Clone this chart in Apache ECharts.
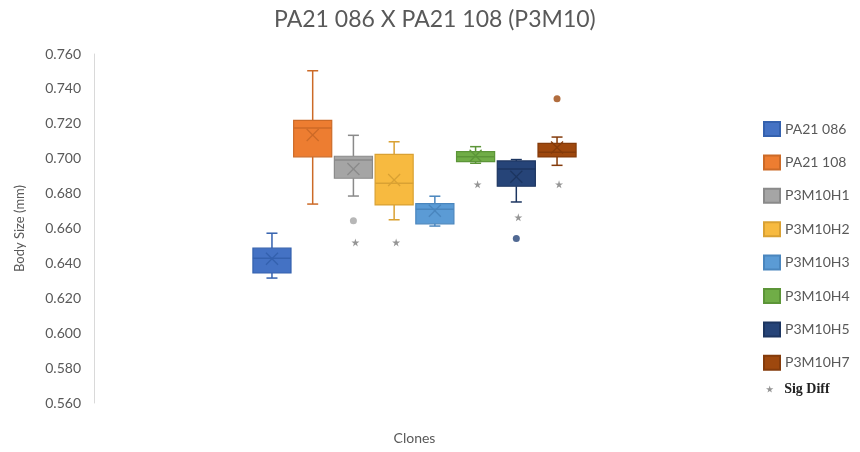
<!DOCTYPE html>
<html><head><meta charset="utf-8">
<script src="https://cdn.jsdelivr.net/npm/echarts@6/dist/echarts.min.js"></script>
<style>html,body{margin:0;padding:0;background:#fff}#c{width:860px;height:452px}</style>
</head><body><div id="c"></div>
<script>
// ---- data ----
const clones = ['PA21 086','PA21 108','P3M10H1','P3M10H2','P3M10H3','P3M10H4','P3M10H5','P3M10H7'];
const whiskerLow  = [0.6316,0.6740,0.6786,0.6650,0.6614,0.6974,0.6752,0.6962];
const quartile1   = [0.6345,0.7011,0.6888,0.6735,0.6627,0.6983,0.6842,0.7010];
const medians     = [0.6430,0.7176,0.6993,0.6859,0.6710,0.7011,0.6941,0.7037];
const quartile3   = [0.6487,0.7220,0.7014,0.7025,0.6742,0.7040,0.6987,0.7088];
const whiskerHigh = [0.6573,0.7504,0.7134,0.7097,0.6785,0.7069,0.6995,0.7124];
const means       = [0.6427,0.7136,0.6941,0.6878,0.6702,0.7017,0.6897,0.7064];
const outlierClones = ['P3M10H1','P3M10H5','P3M10H7'];
const outlierValues = [0.6645,0.6542,0.7344];
const sigDiffClones = ['P3M10H1','P3M10H2','P3M10H4','P3M10H5','P3M10H7'];
const sigDiffY      = [0.6520,0.6520,0.6853,0.6664,0.6853];
const yTicks = [0.560,0.580,0.600,0.620,0.640,0.660,0.680,0.700,0.720,0.740,0.760];

// ---- styles ----
const fillColors = ['#4472C4','#ED7D31','#A5A5A5','#F7BA40','#5B9BD5','#70AD47','#264478','#9E480E'];
const darkColors = ['#3461AE','#CC6A27','#8A8A8A','#D9A133','#4A86BE','#5C9538','#1C3560','#843B0B'];
const textColor = '#595959';
const FONT = 'Lato';
const starPath = 'path://M50,0 L61,35 L98,35 L68,57 L79,91 L50,70 L21,91 L32,57 L2,35 L39,35 Z';

function renderBox(params, api) {
  const i = api.value(0);
  const s = params.seriesIndex;
  const fill = fillColors[s], dark = darkColors[s];
  const band = api.size([1, 0])[0];
  const bw = band * 0.935, cw = 11, xs = 6;
  const cx = api.coord([i, api.value(3)])[0];
  const y = k => api.coord([i, api.value(k)])[1];
  const yLo = y(1), yQ1 = y(2), yMed = y(3), yQ3 = y(4), yHi = y(5), yMean = y(6);
  const line = (x1, y1, x2, y2, c, w) => ({type: 'line', shape: {x1, y1, x2, y2}, style: {stroke: c, lineWidth: w}});
  return {
    type: 'group',
    children: [
      line(cx, yHi, cx, yQ3, dark, 1.5),
      line(cx, yQ1, cx, yLo, dark, 1.5),
      line(cx - cw / 2, yHi, cx + cw / 2, yHi, dark, 1.5),
      line(cx - cw / 2, yLo, cx + cw / 2, yLo, dark, 1.5),
      {type: 'rect', shape: {x: cx - bw / 2, y: yQ3, width: bw, height: yQ1 - yQ3},
        style: {fill: fill, stroke: dark, lineWidth: 1.2}},
      line(cx - bw / 2, yMed, cx + bw / 2, yMed, dark, 1.5),
      line(cx - xs, yMean - xs, cx + xs, yMean + xs, dark, 1.3),
      line(cx - xs, yMean + xs, cx + xs, yMean - xs, dark, 1.3)
    ]
  };
}

const boxSeries = clones.map((name, i) => ({
  type: 'custom',
  name: name,
  renderItem: renderBox,
  itemStyle: {color: fillColors[i], borderColor: darkColors[i], borderWidth: 1},
  encode: {x: 0, y: [1, 2, 3, 4, 5, 6]},
  data: [[i, whiskerLow[i], quartile1[i], medians[i], quartile3[i], whiskerHigh[i], means[i]]],
  z: 2
}));

const outlierSeries = {
  type: 'scatter',
  name: 'outliers',
  symbol: 'circle',
  symbolSize: 7,
  data: outlierClones.map((c, k) => ({
    value: [c, outlierValues[k]],
    itemStyle: {color: fillColors[clones.indexOf(c)]}
  })),
  z: 3
};

const sigSeries = {
  type: 'scatter',
  name: 'Sig Diff',
  symbol: starPath,
  symbolSize: 8,
  symbolOffset: [2, 0],
  itemStyle: {color: '#7A7A7A'},
  data: sigDiffClones.map((c, k) => [c, sigDiffY[k]]),
  z: 3
};

const chart = echarts.init(document.getElementById('c'));
chart.setOption({
  animation: false,
  backgroundColor: '#fff',
  title: {
    text: 'PA21 086 X PA21 108 (P3M10)',
    left: 274, top: 8,
    padding: 0,
    textStyle: {fontFamily: FONT, fontSize: 23, fontWeight: 'normal', color: textColor}
  },
  grid: {left: 251.6, right: 282.6, top: 54, bottom: 49, containLabel: false, outerBoundsMode: 'none'},
  legend: [
    {
      data: clones,
      orient: 'vertical',
      left: 763, top: 121,
      padding: 0,
      icon: 'rect',
      itemWidth: 16, itemHeight: 14, itemGap: 17.4,
      selectedMode: false,
      textStyle: {fontFamily: FONT, fontSize: 14, color: textColor}
    },
    {
      data: ['Sig Diff'],
      orient: 'vertical',
      left: 766, top: 382,
      padding: 0,
      icon: starPath,
      itemWidth: 19, itemHeight: 7,
      selectedMode: false,
      textStyle: {fontFamily: 'Liberation Serif', fontSize: 14, fontWeight: 'bold', color: '#222'}
    }
  ],
  xAxis: {
    type: 'category',
    data: clones,
    boundaryGap: true,
    name: 'Clones',
    nameLocation: 'middle',
    nameGap: 28,
    nameTextStyle: {fontFamily: FONT, fontSize: 14, color: textColor},
    axisLine: {show: false},
    axisTick: {show: false},
    axisLabel: {show: false},
    splitLine: {show: false}
  },
  yAxis: {
    type: 'value',
    min: yTicks[0],
    max: yTicks[yTicks.length - 1],
    interval: yTicks[1] - yTicks[0],
    offset: 157.6,
    name: 'Body Size (mm)',
    nameLocation: 'middle',
    nameGap: 68,
    nameTextStyle: {fontFamily: FONT, fontSize: 13, color: textColor},
    axisLine: {show: true, lineStyle: {color: '#D9D9D9', width: 1}},
    axisTick: {show: false},
    splitLine: {show: false},
    axisLabel: {
      margin: 13,
      fontFamily: FONT, fontSize: 14, color: textColor,
      formatter: v => v.toFixed(3)
    }
  },
  series: [...boxSeries, outlierSeries, sigSeries]
});
</script></body></html>
